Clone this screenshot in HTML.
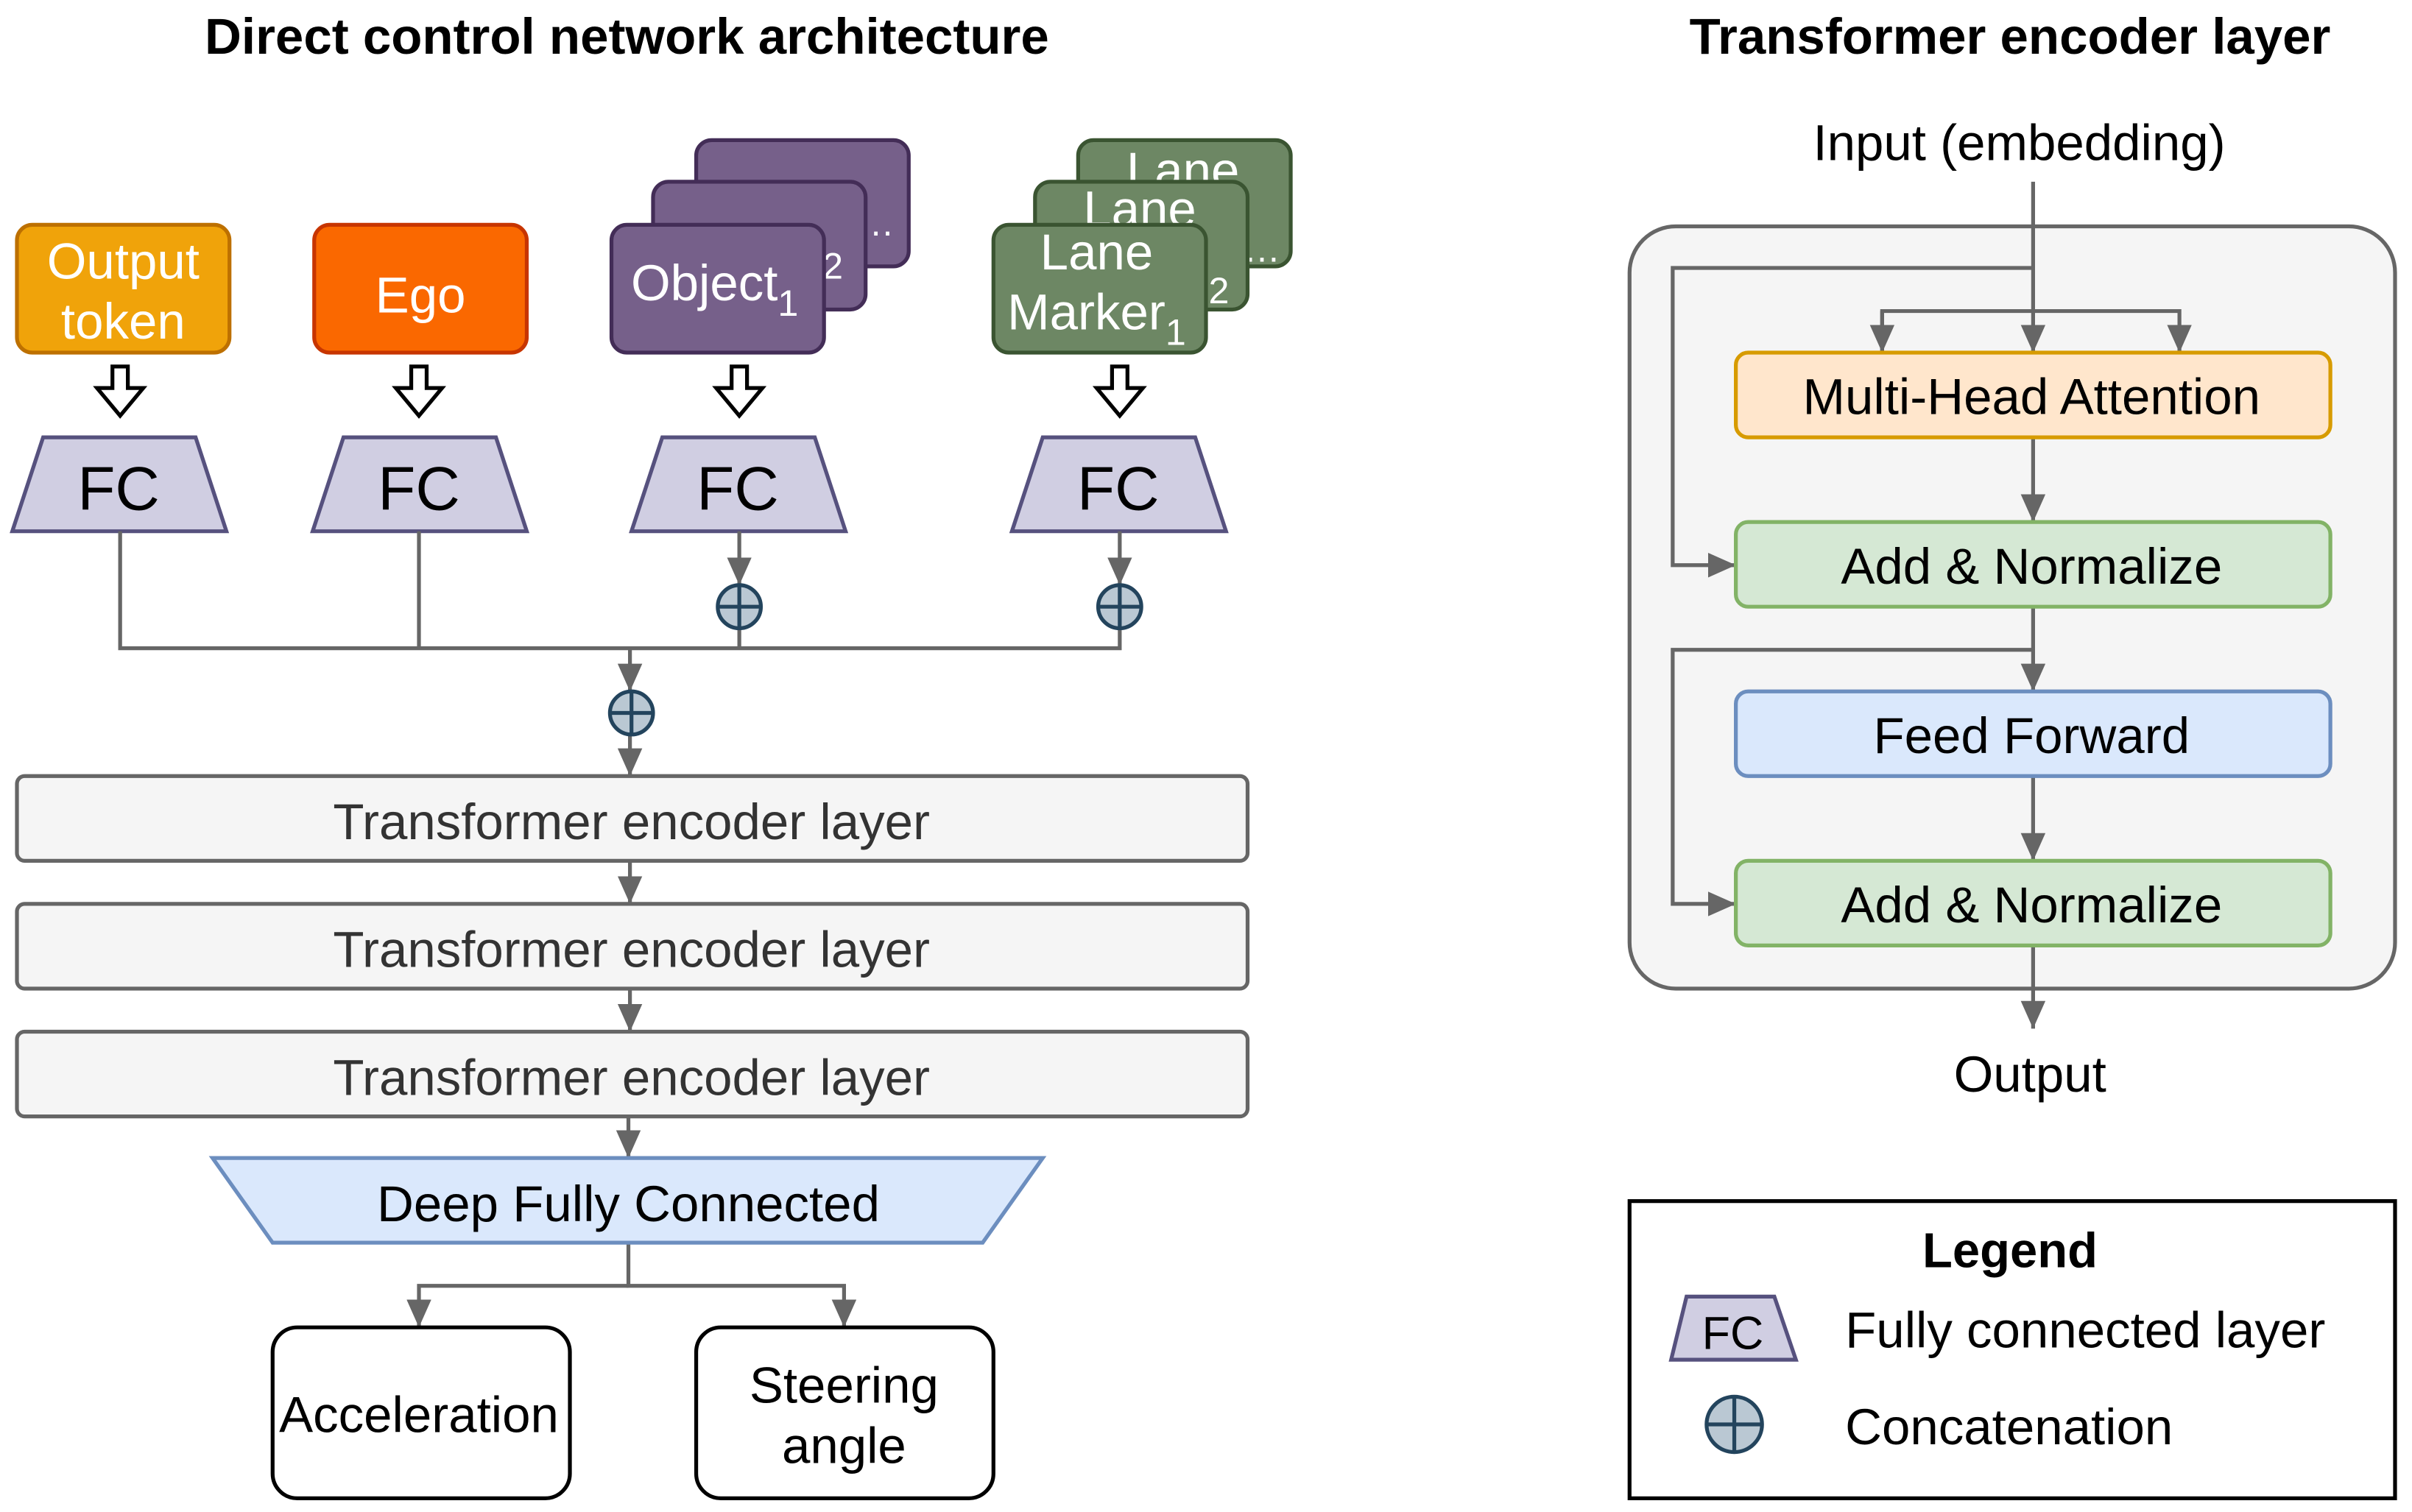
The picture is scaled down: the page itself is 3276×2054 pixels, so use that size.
<!DOCTYPE html>
<html><head><meta charset="utf-8"><style>
html,body{margin:0;padding:0;background:#fff;}
svg{display:block;}
text{font-family:"Liberation Sans",sans-serif;}
</style></head><body>
<svg width="3276" height="2054" viewBox="0 0 1566 981.9" preserveAspectRatio="none" xmlns="http://www.w3.org/2000/svg">
<defs>
<marker id="ar" viewBox="0 0 10 10" refX="10" refY="5" markerWidth="18" markerHeight="16" orient="auto" markerUnits="userSpaceOnUse" preserveAspectRatio="none"><path d="M0,0 L10,5 L0,10 z" fill="#666"/></marker>
</defs>
<g font-weight="bold" font-size="33" text-anchor="middle" fill="#000">
<text x="407" y="35">Direct control network architecture</text>
<text x="1305" y="35">Transformer encoder layer</text>
</g>

<g stroke-width="2.5">
<rect x="11" y="146" width="138" height="83" rx="10" fill="#f0a30a" stroke="#bd7000"/>
<rect x="204" y="146" width="138" height="83" rx="10" fill="#fa6800" stroke="#c73500"/>
<rect x="452" y="91" width="138" height="82" rx="10" fill="#76608a" stroke="#432d57"/>
</g>
<g fill="#fff" font-size="33" text-anchor="middle">
<text x="80" y="181">Output</text><text x="80" y="220">token</text>
<text x="273" y="203">Ego</text>
<text x="521" y="145">Object<tspan font-size="24" dy="8">…</tspan></text>
</g>
<rect x="424" y="118" width="138" height="83" rx="10" fill="#76608a" stroke="#432d57" stroke-width="2.5"/>
<text x="493" y="173" fill="#fff" font-size="33" text-anchor="middle">Object<tspan font-size="24" dy="8">2</tspan></text>
<rect x="397" y="146" width="138" height="83" rx="10" fill="#76608a" stroke="#432d57" stroke-width="2.5"/>
<text x="464" y="195" fill="#fff" font-size="33" text-anchor="middle">Object<tspan font-size="24" dy="10">1</tspan></text>

<rect x="700" y="91" width="138" height="82" rx="10" fill="#6d8764" stroke="#3a5431" stroke-width="2.5"/>
<text x="768" y="122" fill="#fff" font-size="33" text-anchor="middle">Lane</text>
<text x="768" y="162" fill="#fff" font-size="33" text-anchor="middle">Marker<tspan font-size="24" dy="8">…</tspan></text>
<rect x="672" y="118" width="138" height="83" rx="10" fill="#6d8764" stroke="#3a5431" stroke-width="2.5"/>
<text x="740" y="147" fill="#fff" font-size="33" text-anchor="middle">Lane</text>
<text x="740" y="189" fill="#fff" font-size="33" text-anchor="middle">Marker<tspan font-size="24" dy="8">2</tspan></text>
<rect x="645" y="146" width="138" height="83" rx="10" fill="#6d8764" stroke="#3a5431" stroke-width="2.5"/>
<text x="712" y="175" fill="#fff" font-size="33" text-anchor="middle">Lane</text>
<text x="712" y="214" fill="#fff" font-size="33" text-anchor="middle">Marker<tspan font-size="24" dy="10">1</tspan></text>

<g fill="#fff" stroke="#000" stroke-width="2.5">
<path d="M-5,238 h10 v14 h10 l-15,18 l-15,-18 h10 z" transform="translate(78,0)"/>
<path d="M-5,238 h10 v14 h10 l-15,18 l-15,-18 h10 z" transform="translate(272,0)"/>
<path d="M-5,238 h10 v14 h10 l-15,18 l-15,-18 h10 z" transform="translate(480,0)"/>
<path d="M-5,238 h10 v14 h10 l-15,18 l-15,-18 h10 z" transform="translate(727,0)"/>
</g>

<g fill="#d0cee2" stroke="#56517e" stroke-width="2.5">
<path d="M28,284 H127 L147,345 H8 Z"/>
<path d="M223,284 H322 L342,345 H203 Z"/>
<path d="M430,284 H529 L549,345 H410 Z"/>
<path d="M677,284 H776 L796,345 H657 Z"/>
</g>
<g font-size="40" text-anchor="middle" fill="#000">
<text x="77" y="331">FC</text><text x="272" y="331">FC</text><text x="479" y="331">FC</text><text x="726" y="331">FC</text>
</g>

<g stroke="#666" stroke-width="2.5" fill="none">
<path d="M78,345 V421 H727 V408"/>
<path d="M272,345 V421"/>
<path d="M480,408 V421"/>
<path d="M480,345 V380" marker-end="url(#ar)"/>
<path d="M727,345 V380" marker-end="url(#ar)"/>
<path d="M409,421 V449" marker-end="url(#ar)"/>
<path d="M409,477 V504" marker-end="url(#ar)"/>
<path d="M409,559 V587" marker-end="url(#ar)"/>
<path d="M409,642 V670" marker-end="url(#ar)"/>
<path d="M408,725 V752" marker-end="url(#ar)"/>
<path d="M408,807 V835 H548 V862" marker-end="url(#ar)"/>
<path d="M408,835 H272 V862" marker-end="url(#ar)"/>
</g>
<g fill="#bac8d3" stroke="#23445d" stroke-width="2.5">
<circle cx="480" cy="394" r="14"/><path d="M466,394 H494 M480,380 V408"/>
<circle cx="727" cy="394" r="14"/><path d="M713,394 H741 M727,380 V408"/>
<circle cx="410" cy="463" r="14"/><path d="M396,463 H424 M410,449 V477"/>
</g>

<g fill="#f5f5f5" stroke="#666" stroke-width="2.5">
<rect x="11" y="504" width="799" height="55" rx="5"/>
<rect x="11" y="587" width="799" height="55" rx="5"/>
<rect x="11" y="670" width="799" height="55" rx="5"/>
</g>
<g font-size="33" fill="#333" text-anchor="middle">
<text x="410" y="545">Transformer encoder layer</text>
<text x="410" y="628">Transformer encoder layer</text>
<text x="410" y="711">Transformer encoder layer</text>
</g>
<path d="M138,752 H677 L638,807 H177 Z" fill="#dae8fc" stroke="#6c8ebf" stroke-width="2.5"/>
<text x="408" y="793" font-size="33" text-anchor="middle">Deep Fully Connected</text>
<g fill="#fff" stroke="#000" stroke-width="2.5">
<rect x="177" y="862" width="193" height="111" rx="16"/>
<rect x="452" y="862" width="193" height="111" rx="16"/>
</g>
<g font-size="33" text-anchor="middle">
<text x="272" y="930">Acceleration</text>
<text x="548" y="911">Steering</text><text x="548" y="950">angle</text>
</g>

<text x="1311" y="104" font-size="33" text-anchor="middle">Input (embedding)</text>
<rect x="1058" y="147" width="497" height="495" rx="30" fill="#f5f5f5" stroke="#666" stroke-width="2.5"/>
<g stroke="#666" stroke-width="2.5" fill="none">
<path d="M1320,118 V229" marker-end="url(#ar)"/>
<path d="M1320,174 H1086 V367 H1127" marker-end="url(#ar)"/>
<path d="M1222,229 V202 H1415 V229" marker-end="url(#ar)"/>
<path d="M1222,202 V229" marker-end="url(#ar)"/>
<path d="M1320,284 V339" marker-end="url(#ar)"/>
<path d="M1320,394 V449" marker-end="url(#ar)"/>
<path d="M1320,422 H1086 V587 H1127" marker-end="url(#ar)"/>
<path d="M1320,504 V559" marker-end="url(#ar)"/>
<path d="M1320,614 V668" marker-end="url(#ar)"/>
</g>
<g stroke-width="2.5">
<rect x="1127" y="229" width="386" height="55" rx="8" fill="#ffe6cc" stroke="#d79b00"/>
<rect x="1127" y="339" width="386" height="55" rx="8" fill="#d5e8d4" stroke="#82b366"/>
<rect x="1127" y="449" width="386" height="55" rx="8" fill="#dae8fc" stroke="#6c8ebf"/>
<rect x="1127" y="559" width="386" height="55" rx="8" fill="#d5e8d4" stroke="#82b366"/>
</g>
<g font-size="33" text-anchor="middle">
<text x="1319" y="269">Multi-Head Attention</text>
<text x="1319" y="379">Add &amp; Normalize</text>
<text x="1319" y="489">Feed Forward</text>
<text x="1319" y="599">Add &amp; Normalize</text>
<text x="1318" y="709">Output</text>
</g>

<rect x="1058" y="780" width="497" height="193" fill="#fff" stroke="#000" stroke-width="2.5"/>
<text x="1305" y="823" font-size="32" font-weight="bold" text-anchor="middle">Legend</text>
<path d="M1095,842 H1152 L1166,883 H1085 Z" fill="#d0cee2" stroke="#56517e" stroke-width="2.5"/>
<text x="1125" y="876" font-size="30" text-anchor="middle">FC</text>
<text x="1198" y="875" font-size="33">Fully connected layer</text>
<circle cx="1126" cy="925" r="18" fill="#bac8d3" stroke="#23445d" stroke-width="2.5"/>
<path d="M1108,925 H1144 M1126,907 V943" stroke="#23445d" stroke-width="2.5"/>
<text x="1198" y="938" font-size="33">Concatenation</text>
</svg>
</body></html>
